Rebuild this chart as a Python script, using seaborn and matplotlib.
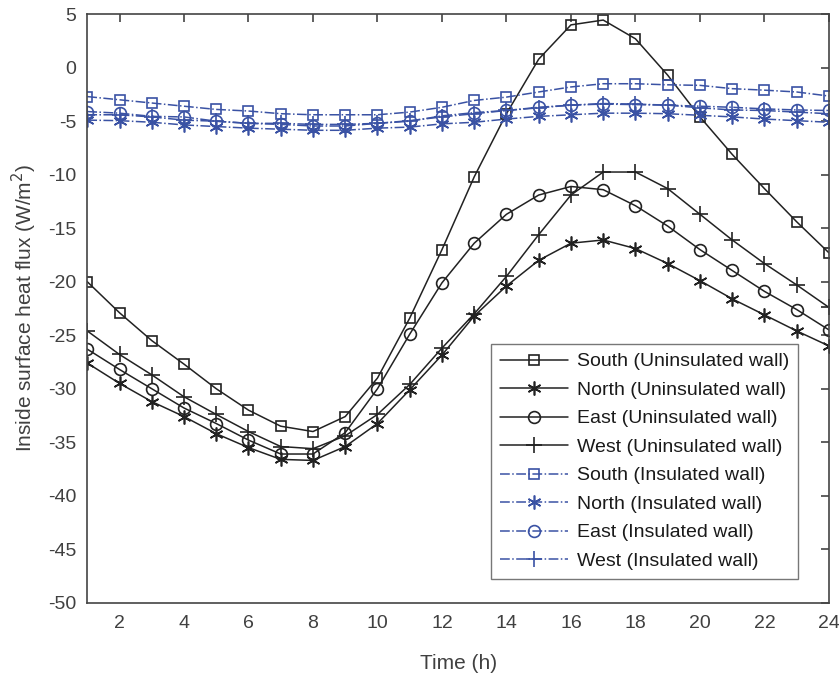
import matplotlib
matplotlib.use("Agg")
import matplotlib.pyplot as plt
import seaborn as sns
import pandas as pd
from matplotlib import font_manager

hours = list(range(1, 25))

south_uninsulated = [-20.0, -22.9, -25.5, -27.7, -30.0, -32.0, -33.5, -34.0, -32.6, -29.0, -23.4, -17.0,
                     -10.2, -4.3, 0.8, 4.0, 4.45, 2.7, -0.7, -4.6, -8.1, -11.3, -14.4, -17.3]
north_uninsulated = [-27.6, -29.5, -31.2, -32.6, -34.2, -35.5, -36.6, -36.7, -35.4, -33.25, -30.1, -26.85,
                     -23.2, -20.4, -18.0, -16.4, -16.1, -16.9, -18.3, -19.9, -21.6, -23.1, -24.6, -26.0]
east_uninsulated = [-26.3, -28.2, -30.0, -31.8, -33.25, -34.8, -36.1, -36.1, -34.1, -30.0, -24.9, -20.1,
                    -16.4, -13.7, -11.9, -11.1, -11.4, -12.9, -14.8, -17.0, -18.95, -20.9, -22.6, -24.5]
west_uninsulated = [-24.6, -26.8, -28.7, -30.75, -32.4, -34.0, -35.4, -35.6, -34.4, -32.4, -29.6, -26.2,
                    -23.0, -19.5, -15.6, -11.9, -9.75, -9.75, -11.3, -13.7, -16.1, -18.3, -20.3, -22.4]
south_insulated = [-2.7, -3.0, -3.3, -3.6, -3.9, -4.05, -4.3, -4.4, -4.4, -4.4, -4.15, -3.7,
                   -3.06, -2.75, -2.27, -1.8, -1.5, -1.5, -1.6, -1.65, -1.96, -2.1, -2.27, -2.65]
north_insulated = [-4.9, -4.95, -5.1, -5.35, -5.5, -5.65, -5.75, -5.85, -5.85, -5.65, -5.55, -5.25,
                   -5.1, -4.8, -4.55, -4.4, -4.25, -4.25, -4.3, -4.45, -4.6, -4.8, -4.95, -5.1]
east_insulated = [-4.1, -4.25, -4.55, -4.6, -5.0, -5.2, -5.3, -5.45, -5.45, -5.2, -5.0, -4.5,
                  -4.2, -4.0, -3.7, -3.5, -3.4, -3.45, -3.5, -3.6, -3.7, -3.85, -3.95, -4.0]
west_insulated = [-4.4, -4.4, -4.6, -4.9, -5.0, -5.2, -5.2, -5.3, -5.3, -5.2, -4.95, -4.6,
                  -4.3, -4.0, -3.75, -3.5, -3.35, -3.4, -3.5, -3.75, -3.95, -4.0, -4.15, -4.3]

labels = ["South (Uninsulated wall)", "North (Uninsulated wall)", "East (Uninsulated wall)",
          "West (Uninsulated wall)", "South (Insulated wall)", "North (Insulated wall)",
          "East (Insulated wall)", "West (Insulated wall)"]
series = [south_uninsulated, north_uninsulated, east_uninsulated, west_uninsulated,
          south_insulated, north_insulated, east_insulated, west_insulated]
x_ticks = list(range(2, 25, 2))
y_ticks = list(range(-50, 6, 5))

sns.set_theme(style="white")
names = set(f.name for f in font_manager.fontManager.ttflist)
fam = "Liberation Sans Narrow" if "Liberation Sans Narrow" in names else "Liberation Sans"
plt.rcParams['font.family'] = [fam, 'DejaVu Sans']
plt.rcParams['axes.unicode_minus'] = False

black = "#222222"
blue = "#3a52a4"
textc = "#404040"
asterisk = (6, 2, 0)
markers = ["s", asterisk, "o", "+", "s", asterisk, "o", "+"]
sizes = [7.5, 10, 8.5, 11, 7.5, 10, 8.5, 11]
colors = [black] * 4 + [blue] * 4
styles = ["-"] * 4 + ["-."] * 4

fig = plt.figure(figsize=(8.39, 6.75), dpi=100)
ax = fig.add_axes([0.104, 0.107, 0.884, 0.872])

for vals, lab, m, ms, c, ls in zip(series, labels, markers, sizes, colors, styles):
    df = pd.DataFrame({"Time": hours, "Flux": vals})
    sns.lineplot(data=df, x="Time", y="Flux", ax=ax, color=c, linestyle=ls, linewidth=1.1,
                 marker=m, markersize=ms, markerfacecolor="none", markeredgecolor=c,
                 markeredgewidth=1.2, label=lab)

ax.set_xlim(1, 24)
ax.set_ylim(-50, 5)
ax.set_xticks(x_ticks)
ax.set_yticks(y_ticks)
ax.tick_params(direction="in", length=6, width=1.2, colors="#444444", labelsize=14,
               top=True, right=True, labelcolor=textc)
ax.tick_params(axis="x", pad=9)
ax.tick_params(axis="y", pad=8)
for s in ax.spines.values():
    s.set_color("#444444")
    s.set_linewidth(1.2)
ax.set_xlabel("Time (h)", fontsize=15, color=textc, labelpad=16)
ax.set_ylabel("Inside surface heat flux (W/m$^2$)", fontsize=15, color=textc, labelpad=6)

leg = ax.legend(loc="lower right", bbox_to_anchor=(0.958, 0.041), borderaxespad=0, fontsize=14,
                frameon=True, fancybox=False, edgecolor="#555555", handlelength=3.5, borderpad=0.45,
                labelspacing=0.56, handletextpad=0.45)
leg.get_frame().set_linewidth(1.0)
for t in leg.get_texts():
    t.set_color("#1a1a1a")

fig.savefig("out.png", dpi=100)
